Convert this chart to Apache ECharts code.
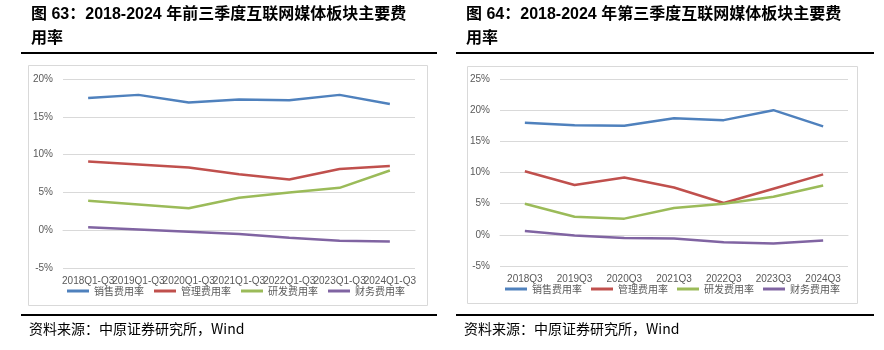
<!DOCTYPE html>
<html>
<head>
<meta charset="utf-8">
<script src="https://cdn.jsdelivr.net/npm/echarts@6/dist/echarts.min.js"></script>
<style>
  html, body { margin: 0; padding: 0; background: #fff; }
  #chart { width: 884px; height: 350px; }
</style>
</head>
<body>
<div id="chart"></div>
<script>
// data
const names = ['销售费用率', '管理费用率', '研发费用率', '财务费用率'];
const colors = ['#4F81BD', '#C0504D', '#9BBB59', '#8064A2'];

const catsLeft = ['2018Q1-Q3', '2019Q1-Q3', '2020Q1-Q3', '2021Q1-Q3', '2022Q1-Q3', '2023Q1-Q3', '2024Q1-Q3'];
const salesLeft = [17.5, 17.9, 16.9, 17.3, 17.2, 17.9, 16.7];
const adminLeft = [9.1, 8.7, 8.3, 7.4, 6.7, 8.1, 8.5];
const rdLeft = [3.9, 3.4, 2.9, 4.3, 5.0, 5.6, 7.9];
const finLeft = [0.4, 0.1, -0.2, -0.5, -1.0, -1.4, -1.5];

const catsRight = ['2018Q3', '2019Q3', '2020Q3', '2021Q3', '2022Q3', '2023Q3', '2024Q3'];
const salesRight = [18.0, 17.6, 17.5, 18.7, 18.4, 20.0, 17.4];
const adminRight = [10.2, 8.0, 9.2, 7.6, 5.1, 7.4, 9.7];
const rdRight = [5.0, 2.9, 2.6, 4.3, 5.0, 6.1, 7.9];
const finRight = [0.6, -0.1, -0.5, -0.6, -1.2, -1.4, -0.9];

const titleLeft = ['图 63：2018-2024 年前三季度互联网媒体板块主要费', '用率'];
const titleRight = ['图 64：2018-2024 年第三季度互联网媒体板块主要费', '用率'];
const source = '资料来源：中原证券研究所，Wind';

const chart = echarts.init(document.getElementById('chart'));

const axisLabelStyle = { color: '#595959', fontSize: 10, fontFamily: 'Liberation Sans, Arial, sans-serif' };

function yAxis(idx, max) {
  return {
    type: 'value', gridIndex: idx, min: -5, max: max, interval: 5,
    axisLabel: Object.assign({ formatter: '{value}%', margin: 10 }, axisLabelStyle),
    axisLine: { show: false }, axisTick: { show: false },
    splitLine: { lineStyle: { color: '#d9d9d9', width: 1 } }
  };
}
function xAxis(idx, cats) {
  return {
    type: 'category', gridIndex: idx, data: cats, boundaryGap: true,
    axisLine: { onZero: true, lineStyle: { color: '#d9d9d9' } },
    axisTick: { show: false },
    axisLabel: Object.assign({ interval: 0, margin: 8 }, axisLabelStyle)
  };
}
function lines(idx, arrs) {
  return arrs.map((d, i) => ({
    name: names[i], type: 'line', xAxisIndex: idx, yAxisIndex: idx, data: d,
    symbol: 'none', smooth: false,
    lineStyle: { color: colors[i], width: 2.5 },
    itemStyle: { color: colors[i] }
  }));
}
function legend(left, top, gap) {
  return {
    left: left, top: top, data: names, icon: 'rect', itemWidth: 22, itemHeight: 3,
    itemGap: gap, selectedMode: false,
    textStyle: { color: '#595959', fontSize: 10, fontFamily: 'Noto Sans CJK SC' }
  };
}
function titleText(x, lines) {
  return lines.map((t, i) => ({
    type: 'text', left: x, top: 7 + i * 24,
    style: { text: t, fill: '#000', font: 'bold 16px "Liberation Sans", "Noto Sans CJK SC"' }
  }));
}

chart.setOption({
  animation: false,
  grid: [
    { left: 63, right: 469, top: 79, bottom: 82 },
    { left: 500, right: 36, top: 79, bottom: 84 }
  ],
  xAxis: [xAxis(0, catsLeft), xAxis(1, catsRight)],
  yAxis: [yAxis(0, 20), yAxis(1, 25)],
  legend: [legend(62, 281, 10), legend(500, 279, 9)],
  series: lines(0, [salesLeft, adminLeft, rdLeft, finLeft]).concat(lines(1, [salesRight, adminRight, rdRight, finRight])),
  graphic: [
    ...titleText(31, titleLeft),
    ...titleText(466, titleRight),
    { type: 'rect', shape: { x: 21, y: 52, width: 416, height: 2 }, style: { fill: '#000' } },
    { type: 'rect', shape: { x: 456, y: 52, width: 418, height: 2 }, style: { fill: '#000' } },
    { type: 'rect', shape: { x: 28.5, y: 65.5, width: 399, height: 240 }, style: { fill: 'none', stroke: '#d9d9d9', lineWidth: 1 }, z: -1 },
    { type: 'rect', shape: { x: 467.5, y: 66.5, width: 390, height: 237 }, style: { fill: 'none', stroke: '#d9d9d9', lineWidth: 1 }, z: -1 },
    { type: 'rect', shape: { x: 21, y: 314, width: 416, height: 2 }, style: { fill: '#000' } },
    { type: 'rect', shape: { x: 456, y: 314, width: 418, height: 2 }, style: { fill: '#000' } },
    { type: 'text', left: 29, top: 322, style: { text: source, fill: '#000', font: '14px "Noto Sans CJK SC"' } },
    { type: 'text', left: 464, top: 322, style: { text: source, fill: '#000', font: '14px "Noto Sans CJK SC"' } }
  ]
});
</script>
</body>
</html>
